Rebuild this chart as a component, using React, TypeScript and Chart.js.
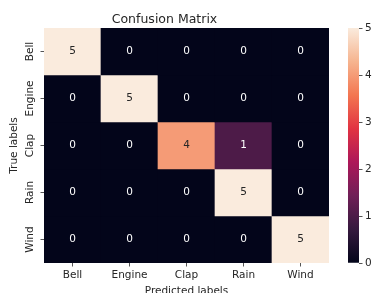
import React, { useEffect, useRef } from "react";
import { Chart, registerables } from "chart.js";

Chart.register(...registerables);

const predictedLabels = ["Bell", "Engine", "Clap", "Rain", "Wind"];
const trueLabels = ["Bell", "Engine", "Clap", "Rain", "Wind"];
const matrixRows = [
  [5, 0, 0, 0, 0],
  [0, 5, 0, 0, 0],
  [0, 0, 4, 1, 0],
  [0, 0, 0, 5, 0],
  [0, 0, 0, 0, 5],
];
const colorbarTicks = [0, 1, 2, 3, 4, 5];
const titleText = "Confusion Matrix";
const xTitle = "Predicted labels";
const yTitle = "True labels";

// seaborn "rocket" colormap stops
const ROCKET: [number, [number, number, number]][] = [
  [0.0, [3, 5, 26]],
  [0.143, [53, 25, 62]],
  [0.286, [112, 31, 87]],
  [0.429, [173, 23, 89]],
  [0.571, [225, 51, 66]],
  [0.714, [243, 118, 81]],
  [0.857, [246, 180, 143]],
  [1.0, [250, 235, 221]],
];

function rocketRGB(t: number): number[] {
  const v = Math.max(0, Math.min(1, t));
  for (let k = 1; k < ROCKET.length; k++) {
    const [p1, c1] = ROCKET[k];
    const [p0, c0] = ROCKET[k - 1];
    if (v <= p1) {
      const f = (v - p0) / (p1 - p0);
      return c0.map((a, idx) => a + (c1[idx] - a) * f);
    }
  }
  return [250, 235, 221];
}

function rocket(t: number): string {
  const c = rocketRGB(t).map((x) => Math.round(x));
  return `rgb(${c[0]},${c[1]},${c[2]})`;
}

function luminance(t: number): number {
  const lin = rocketRGB(t).map((c) => {
    const s = c / 255;
    return s <= 0.03928 ? s / 12.92 : Math.pow((s + 0.055) / 1.055, 2.4);
  });
  return 0.2126 * lin[0] + 0.7152 * lin[1] + 0.0722 * lin[2];
}

const FONT = "'DejaVu Sans', sans-serif";
const TEXT = "#262626";
const W = 373;
const H = 293;

export default function App() {
  const mainRef = useRef<HTMLCanvasElement>(null);
  const cbRef = useRef<HTMLCanvasElement>(null);

  useEffect(() => {
    const vmin = Math.min(...matrixRows.flat());
    const vmax = Math.max(...matrixRows.flat());
    const norm = (v: number) => (v - vmin) / (vmax - vmin);

    const m = document.createElement("canvas").getContext("2d")!;
    m.font = `10.5px ${FONT}`;
    const widest = Math.max(...trueLabels.map((l) => m.measureText(l).width));
    const yTickPad = 44 - 3.5 - 30 - widest / 2;

    const annotate = {
      id: "annotate",
      afterDatasetsDraw(chart: any) {
        const { ctx } = chart;
        const xs = chart.scales.x;
        const ys = chart.scales.y;
        ctx.save();
        ctx.font = `10.5px ${FONT}`;
        ctx.textAlign = "center";
        ctx.textBaseline = "middle";
        matrixRows.forEach((row, i) => {
          row.forEach((v, j) => {
            ctx.fillStyle = luminance(norm(v)) > 0.408 ? TEXT : "#ffffff";
            ctx.fillText(String(v), xs.getPixelForValue(j), ys.getPixelForValue(i));
          });
        });
        ctx.restore();
      },
    };

    const main = new Chart(mainRef.current!, {
      type: "bar",
      data: {
        labels: predictedLabels,
        datasets: matrixRows.map((row, i) => ({
          label: trueLabels[i],
          data: row.map(() => [i - 0.5, i + 0.5]),
          backgroundColor: row.map((v) => rocket(norm(v))),
          borderWidth: 0,
          barPercentage: 1,
          categoryPercentage: 1,
          grouped: false,
        })) as any,
      },
      options: {
        animation: false,
        responsive: false,
        devicePixelRatio: 1,
        events: [],
        layout: { padding: { left: 0, right: W - 329, top: 0, bottom: 0 } },
        plugins: {
          legend: { display: false },
          tooltip: { enabled: false },
          title: {
            display: true,
            text: titleText,
            color: TEXT,
            font: { family: FONT, size: 12.5, weight: "normal" as any },
            padding: { top: 12.2, bottom: 0.8 },
          },
        },
        scales: {
          x: {
            type: "category",
            offset: true,
            grid: {
              offset: false,
              drawOnChartArea: false,
              drawTicks: true,
              tickLength: 3.5,
              color: "#555",
            },
            border: { display: false },
            ticks: {
              color: TEXT,
              font: { family: FONT, size: 10.5 },
              padding: 2.7,
              maxRotation: 0,
              minRotation: 0,
            },
            title: {
              display: true,
              text: xTitle,
              color: TEXT,
              font: { family: FONT, size: 10.5 },
              padding: { top: 0, bottom: -5 },
            },
            afterFit: (s: any) => {
              s.height = H - 263;
            },
          },
          y: {
            type: "linear",
            reverse: true,
            min: -0.5,
            max: trueLabels.length - 0.5,
            grid: {
              drawOnChartArea: false,
              drawTicks: true,
              tickLength: 3.5,
              color: "#555",
            },
            border: { display: false },
            afterBuildTicks: (s: any) => {
              s.ticks = trueLabels.map((_, i) => ({ value: i }));
            },
            ticks: {
              color: TEXT,
              font: { family: FONT, size: 10.5 },
              minRotation: 90,
              maxRotation: 90,
              crossAlign: "center",
              padding: yTickPad,
              callback: (v: any) => trueLabels[Number(v)] ?? "",
            },
            title: {
              display: true,
              text: yTitle,
              color: TEXT,
              font: { family: FONT, size: 10.5 },
              padding: { top: 8.3, bottom: 0 },
            },
            afterFit: (s: any) => {
              s.width = 44;
            },
          },
        },
      },
      plugins: [annotate],
    });

    const cb = new Chart(cbRef.current!, {
      type: "bar",
      data: {
        labels: [""],
        datasets: [
          {
            data: [[vmin, vmax]] as any,
            backgroundColor: (ctx: any) => {
              const chart = ctx.chart;
              const ys = chart.scales.y;
              if (!ys || !chart.chartArea) return "#000";
              const g = chart.ctx.createLinearGradient(
                0,
                ys.getPixelForValue(vmin),
                0,
                ys.getPixelForValue(vmax)
              );
              ROCKET.forEach(([p, c]) => g.addColorStop(p, `rgb(${c[0]},${c[1]},${c[2]})`));
              return g;
            },
            borderWidth: 0,
            barPercentage: 1,
            categoryPercentage: 1,
          },
        ],
      },
      options: {
        animation: false,
        responsive: false,
        devicePixelRatio: 1,
        events: [],
        layout: { padding: { left: 8, right: 0, top: 28, bottom: H - 263 } },
        plugins: { legend: { display: false }, tooltip: { enabled: false }, title: { display: false } },
        scales: {
          x: { display: false },
          y: {
            position: "right",
            min: vmin,
            max: vmax,
            grid: {
              drawOnChartArea: false,
              drawTicks: true,
              tickLength: 3.5,
              color: "#555",
            },
            border: { display: false },
            afterBuildTicks: (s: any) => {
              s.ticks = colorbarTicks.map((v) => ({ value: v }));
            },
            ticks: {
              color: TEXT,
              font: { family: FONT, size: 10.5 },
              padding: 2.5,
            },
            afterFit: (s: any) => {
              s.width = 33 - 8 - 11;
            },
          },
        },
      },
    });

    return () => {
      main.destroy();
      cb.destroy();
    };
  }, []);

  return (
    <div style={{ position: "fixed", left: 0, top: 0, width: W, height: H, background: "#fff" }}>
      <canvas
        ref={mainRef}
        width={W}
        height={H}
        style={{ position: "absolute", left: 0, top: 0, width: W, height: H }}
      />
      <canvas
        ref={cbRef}
        width={33}
        height={H}
        style={{ position: "absolute", left: 340, top: 0, width: 33, height: H }}
      />
    </div>
  );
}
